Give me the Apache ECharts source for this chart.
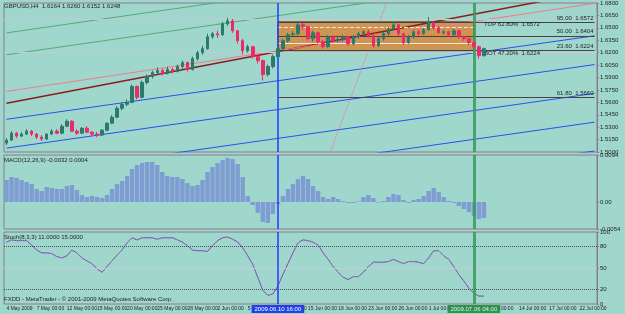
<!DOCTYPE html>
<html>
<head>
<meta charset="utf-8">
<script src="https://cdn.jsdelivr.net/npm/echarts@6/dist/echarts.min.js"></script>
<style>
  html, body { margin: 0; padding: 0; background: #a0d7cd; }
  #main { width: 625px; height: 314px; }
</style>
</head>
<body>
<div id="main"></div>
<script>
// GBPUSD H4, one slot = 12h
const opens = [1.5108, 1.5144, 1.5228, 1.5192, 1.5216, 1.5252, 1.5216, 1.5180, 1.5156, 1.5216,
  1.5252, 1.5228, 1.5312, 1.5372, 1.5252, 1.5228, 1.5288, 1.5240, 1.5216, 1.5204,
  1.5264, 1.5348, 1.5420, 1.5528, 1.5576, 1.5600, 1.5792, 1.5660, 1.5840, 1.5912,
  1.5960, 1.5984, 1.5948, 1.5996, 1.5972, 1.6032, 1.6080, 1.5996, 1.6128, 1.6200,
  1.6248, 1.6392, 1.6428, 1.6416, 1.6548, 1.6584, 1.6464, 1.6344, 1.6224, 1.6272,
  1.6152, 1.6104, 1.5936, 1.6032, 1.6152, 1.6248, 1.6344, 1.6416, 1.6428, 1.6536,
  1.6512, 1.6368, 1.6440, 1.6332, 1.6272, 1.6392, 1.6344, 1.6356, 1.6392, 1.6308,
  1.6392, 1.6428, 1.6452, 1.6404, 1.6284, 1.6368, 1.6428, 1.6488, 1.6536, 1.6428,
  1.6320, 1.6392, 1.6452, 1.6428, 1.6476, 1.6560, 1.6500, 1.6440, 1.6452, 1.6416,
  1.6464, 1.6392, 1.6368, 1.6320, 1.6272, 1.6164]
const closes = [1.5144, 1.5228, 1.5192, 1.5216, 1.5252, 1.5216, 1.5180, 1.5156, 1.5216, 1.5252,
  1.5228, 1.5312, 1.5372, 1.5252, 1.5228, 1.5288, 1.5240, 1.5216, 1.5204, 1.5264,
  1.5348, 1.5420, 1.5528, 1.5576, 1.5600, 1.5792, 1.5660, 1.5840, 1.5912, 1.5960,
  1.5984, 1.5948, 1.5996, 1.5972, 1.6032, 1.6080, 1.5996, 1.6128, 1.6200, 1.6248,
  1.6392, 1.6428, 1.6416, 1.6548, 1.6584, 1.6464, 1.6344, 1.6224, 1.6272, 1.6152,
  1.6104, 1.5936, 1.6032, 1.6152, 1.6248, 1.6344, 1.6416, 1.6428, 1.6536, 1.6512,
  1.6368, 1.6440, 1.6332, 1.6272, 1.6392, 1.6344, 1.6356, 1.6392, 1.6308, 1.6392,
  1.6428, 1.6452, 1.6404, 1.6284, 1.6368, 1.6428, 1.6488, 1.6536, 1.6428, 1.6320,
  1.6392, 1.6452, 1.6428, 1.6476, 1.6560, 1.6500, 1.6440, 1.6452, 1.6416, 1.6464,
  1.6392, 1.6368, 1.6320, 1.6272, 1.6164, 1.6248]
const lows = [1.5084, 1.5132, 1.5168, 1.5180, 1.5204, 1.5192, 1.5156, 1.5132, 1.5144, 1.5204,
  1.5216, 1.5216, 1.5300, 1.5240, 1.5204, 1.5216, 1.5228, 1.5192, 1.5180, 1.5192,
  1.5252, 1.5336, 1.5408, 1.5504, 1.5552, 1.5588, 1.5636, 1.5648, 1.5816, 1.5888,
  1.5936, 1.5924, 1.5936, 1.5948, 1.5960, 1.6008, 1.5972, 1.5984, 1.6104, 1.6176,
  1.6236, 1.6368, 1.6380, 1.6404, 1.6524, 1.6440, 1.6308, 1.6176, 1.6200, 1.6128,
  1.6068, 1.5864, 1.5912, 1.6008, 1.6140, 1.6224, 1.6320, 1.6392, 1.6404, 1.6476,
  1.6344, 1.6332, 1.6308, 1.6248, 1.6260, 1.6320, 1.6320, 1.6332, 1.6284, 1.6296,
  1.6368, 1.6404, 1.6380, 1.6260, 1.6272, 1.6344, 1.6404, 1.6464, 1.6404, 1.6296,
  1.6308, 1.6368, 1.6404, 1.6416, 1.6464, 1.6476, 1.6428, 1.6416, 1.6392, 1.6404,
  1.6368, 1.6344, 1.6296, 1.6248, 1.6128, 1.6152]
const highs = [1.5168, 1.5252, 1.5240, 1.5240, 1.5276, 1.5264, 1.5228, 1.5204, 1.5228, 1.5276,
  1.5276, 1.5336, 1.5396, 1.5384, 1.5276, 1.5300, 1.5312, 1.5252, 1.5240, 1.5276,
  1.5360, 1.5444, 1.5552, 1.5600, 1.5636, 1.5816, 1.5804, 1.5864, 1.5936, 1.5984,
  1.6020, 1.6008, 1.6032, 1.6020, 1.6056, 1.6104, 1.6092, 1.6152, 1.6224, 1.6284,
  1.6428, 1.6452, 1.6464, 1.6572, 1.6620, 1.6608, 1.6476, 1.6368, 1.6296, 1.6284,
  1.6176, 1.6116, 1.6056, 1.6176, 1.6272, 1.6368, 1.6440, 1.6464, 1.6560, 1.6560,
  1.6524, 1.6464, 1.6452, 1.6356, 1.6416, 1.6416, 1.6392, 1.6416, 1.6404, 1.6416,
  1.6452, 1.6476, 1.6476, 1.6416, 1.6392, 1.6452, 1.6512, 1.6572, 1.6548, 1.6440,
  1.6416, 1.6476, 1.6476, 1.6500, 1.6632, 1.6584, 1.6524, 1.6476, 1.6464, 1.6488,
  1.6476, 1.6404, 1.6380, 1.6332, 1.6284, 1.6260]

const macdHist = [0.0044, 0.0050, 0.0048, 0.0044, 0.0040, 0.0036, 0.0026, 0.0022, 0.0030, 0.0028,
  0.0026, 0.0026, 0.0032, 0.0034, 0.0024, 0.0014, 0.0010, 0.0012, 0.0010, 0.0008,
  0.0014, 0.0026, 0.0036, 0.0042, 0.0052, 0.0066, 0.0074, 0.0078, 0.0080, 0.0080,
  0.0074, 0.0060, 0.0052, 0.0050, 0.0050, 0.0046, 0.0038, 0.0032, 0.0034, 0.0044,
  0.0060, 0.0070, 0.0078, 0.0084, 0.0088, 0.0086, 0.0076, 0.0050, 0.0012, -0.0006,
  -0.0022, -0.0040, -0.0042, -0.0024, -0.0004, 0.0012, 0.0026, 0.0036, 0.0046, 0.0052,
  0.0046, 0.0032, 0.0022, 0.0010, 0.0006, 0.0010, 0.0006, 0.0002, -0.0002, -0.0002,
  0.0001, 0.0010, 0.0014, 0.0008, -0.0001, 0.0002, 0.0010, 0.0016, 0.0014, 0.0004,
  -0.0002, 0.0004, 0.0006, 0.0012, 0.0022, 0.0028, 0.0020, 0.0010, 0.0002, -0.0002,
  -0.0008, -0.0014, -0.0020, -0.0028, -0.0034, -0.0032]

const stochK = [86, 89, 88, 88, 88, 82, 75, 71, 71, 70,
  66, 64, 67, 75, 71, 64, 60, 56, 49, 44,
  52, 60, 68, 75, 85, 92, 89, 92, 92, 92,
  90, 92, 92, 92, 89, 86, 81, 75, 74, 74,
  73, 81, 88, 92, 93, 90, 86, 78, 67, 55,
  37, 19, 12, 14, 25, 41, 56, 71, 85, 89,
  88, 86, 82, 71, 62, 52, 44, 37, 34, 38,
  38, 44, 52, 58, 58, 58, 59, 62, 59, 56,
  59, 59, 58, 56, 64, 74, 74, 67, 62, 52,
  41, 32, 22, 15, 11, 11]

// bottom time scale, one label every 6 slots
const dateTicks = ['4 May 2009', '7 May 00:00', '12 May 00:00', '15 May 00:00', '20 May 00:00',
  '25 May 00:00', '28 May 00:00', '2 Jun 00:00', '5 Jun 00:00', '10 Jun 00:00',
  '15 Jun 00:00', '18 Jun 00:00', '23 Jun 00:00', '26 Jun 00:00', '1 Jul 00:00',
  '6 Jul 00:00', '9 Jul 00:00', '14 Jul 00:00', '17 Jul 00:00', '22 Jul 00:00']
const slotCount = 118
const slots = Array.from({ length: slotCount }, (_, i) => String(i))

// trend lines: [slot, price] at both ends
const trendSlots = [0, 117]
const redLine = [1.5590, 1.6942]
const pinkLine = [1.5732, 1.6795]
const greenLines = [[1.6439, 1.7460], [1.6175, 1.7198]]
const blueLines = [[1.5395, 1.6404], [1.5047, 1.6056], [1.4699, 1.5708], [1.4351, 1.5360], [1.4003, 1.5012]]
const steepSlots = [64, 76]
const steepLine = [1.4936, 1.6859]

// fibo / box
const boxSlots = [54, 93]
const boxPrices = [1.6572, 1.6224]
const boxLabels = ['TOP 62.80%  1.6572', 'BOT 47.20%  1.6224']
const boxLabelPrices = [1.6546, 1.6196]
const fibSlots = [54, 117]
const fibPrices = [1.6572, 1.6404, 1.6224, 1.5660]
const fibNames = ['95.00', '50.00', '23.60', '61.80']
const innerPrices = [1.6512, 1.6308]
const tagPrices = [1.6572, 1.6308, 1.6224]

const markerSlots = [54, 93]
const markerTimes = ['2009.06.10 16:00', '2009.07.06 04:00']

const font = '"Liberation Sans", Arial, sans-serif'
const txt = '#1e1e1e'
const frame = '#8c7c88'
const markerStyles = [
  { color: '#1e3cff', width: 1.5, type: 'solid' },
  { color: '#3a9a5a', width: 3, type: 'solid', opacity: 0.85 }
]
const markerBg = ['#2140e8', '#1c8a3a']

function verticals(withLabels) {
  return markerSlots.map((s, i) => ({
    xAxis: s,
    lineStyle: markerStyles[i],
    label: withLabels ? {
      show: true, position: 'start', distance: 1, formatter: markerTimes[i],
      backgroundColor: markerBg[i], color: '#fff', fontSize: 6, fontFamily: font, padding: [1, 3]
    } : { show: false }
  }))
}

function trend(name, ys, xs, color, width, type) {
  return {
    name, type: 'line', xAxisIndex: 0, yAxisIndex: 0, silent: true,
    showSymbol: false, symbol: 'none', clip: true, z: 3,
    data: [[xs[0], ys[0]], [xs[1], ys[1]]],
    lineStyle: { color, width, type: type || 'solid' }
  }
}

const candles = opens.map((o, i) => [o, closes[i], lows[i], highs[i]])

const fibLines = fibPrices.map((p, i) => [
  { coord: [fibSlots[0], p], lineStyle: { color: '#4a4046', width: 1, type: 'solid' },
    label: { show: true, position: 'insideEndTop', distance: 1, formatter: fibNames[i] + '  ' + p.toFixed(4),
      fontSize: 6, fontFamily: font, color: txt } },
  { coord: [fibSlots[1], p] }
])
const innerLines = innerPrices.map((p, i) => [
  { coord: [boxSlots[0], p], lineStyle: { color: '#ecebf2', width: 1, type: i === 0 ? 'dashed' : 'solid' }, label: { show: false } },
  { coord: [boxSlots[1], p] }
])
const edgeLines = boxPrices.map(p => ({ yAxis: p, lineStyle: { color: '#c6c9d2', width: 1, type: 'solid' }, label: { show: false } }))
const tags = tagPrices.map((p, i) => ({
  yAxis: p, lineStyle: { opacity: 0 },
  label: { show: true, position: 'end', distance: 1, formatter: p.toFixed(4), fontSize: 6, fontFamily: font,
    color: i === 1 ? '#fff' : '#222', backgroundColor: i === 1 ? '#c0203a' : '#c98040', padding: [1, 1] }
}))

const series = [
  {
    name: 'GBPUSD', type: 'candlestick', xAxisIndex: 0, yAxisIndex: 0, z: 5,
    barWidth: 3, data: candles,
    itemStyle: { color: '#2c7a6c', color0: '#ee2a66', borderColor: '#2c7a6c', borderColor0: '#ee2a66', borderWidth: 1 },
    markArea: {
      silent: true,
      itemStyle: { color: 'rgba(214,136,58,0.85)', borderColor: '#6e4018', borderWidth: 1 },
      data: [[{ coord: [boxSlots[0], boxPrices[0]] }, { coord: [boxSlots[1], boxPrices[1]] }]]
    },
    markLine: {
      silent: true, symbol: ['none', 'none'], animation: false,
      data: [...edgeLines, ...innerLines, ...fibLines, ...tags, ...verticals(false)]
    },
    markPoint: {
      silent: true, symbol: 'rect', symbolSize: 0,
      data: boxLabels.map((t, i) => ({
        coord: [95, boxLabelPrices[i]],
        label: { show: true, position: 'right', distance: 0, formatter: t, fontSize: 6, fontFamily: font, color: txt }
      }))
    }
  },
  trend('red', redLine, trendSlots, '#8b1c1c', 1.5),
  trend('pink', pinkLine, trendSlots, '#f07a8a', 1),
  ...greenLines.map((l, i) => trend('green' + i, l, trendSlots, '#5aa870', 1)),
  ...blueLines.map((l, i) => trend('blue' + i, l, trendSlots, '#2b4ef0', 1)),
  trend('steep', steepLine, steepSlots, '#f06a8a', 1, 'dotted'),
  {
    name: 'MACD', type: 'bar', xAxisIndex: 1, yAxisIndex: 1, data: macdHist,
    barCategoryGap: '12%', itemStyle: { color: '#7f9dd2' },
    markLine: { silent: true, symbol: ['none', 'none'], data: verticals(false) }
  },
  {
    name: 'Stoch', type: 'line', xAxisIndex: 2, yAxisIndex: 2, data: stochK,
    showSymbol: false, symbol: 'none', lineStyle: { color: '#3d5cd0', width: 1 },
    markLine: {
      silent: true, symbol: ['none', 'none'],
      data: [
        { yAxis: 80, lineStyle: { color: '#4c5060', type: 'dotted', width: 1 }, label: { show: false } },
        { yAxis: 50, lineStyle: { color: '#c4ccd6', type: 'solid', width: 1 }, label: { show: false } },
        { yAxis: 20, lineStyle: { color: '#4c5060', type: 'dotted', width: 1 }, label: { show: false } },
        ...verticals(true)
      ]
    }
  },
  {
    name: 'StochSignal', type: 'line', xAxisIndex: 2, yAxisIndex: 2, data: stochK,
    showSymbol: false, symbol: 'none', lineStyle: { color: '#e06a8a', width: 1, type: 'dotted' }
  }
]

const grids = [
  { left: 4, right: 28, top: 2, height: 150 },
  { left: 4, right: 28, top: 155, height: 74 },
  { left: 4, right: 28, top: 232, height: 72 }
].map(g => ({ ...g, show: true, borderColor: frame, borderWidth: 1, backgroundColor: 'transparent' }))

const xAxes = [0, 1, 2].map(i => ({
  type: 'category', gridIndex: i, data: slots, boundaryGap: true,
  axisLine: { show: false }, axisTick: { show: false }, splitLine: { show: false },
  axisLabel: i === 2 ? {
    show: true, interval: 5, fontSize: 5, fontFamily: font, color: txt, margin: 2, align: 'left',
    showMinLabel: true, hideOverlap: false,
    formatter: (v, idx) => dateTicks[idx / 6] || ''
  } : { show: false }
}))

const yLabel = { fontSize: 6, fontFamily: font, color: txt, margin: 3 }
const yAxes = [
  {
    gridIndex: 0, position: 'right', min: 1.5, max: 1.68, interval: 0.015,
    axisLine: { show: true, lineStyle: { color: frame } }, axisTick: { show: true, length: 2, lineStyle: { color: frame } },
    splitLine: { show: false }, axisLabel: { ...yLabel, formatter: v => v.toFixed(4) }
  },
  {
    gridIndex: 1, position: 'right', min: -0.0054, max: 0.0094,
    axisLine: { show: true, lineStyle: { color: frame } },
    axisTick: { show: true, length: 2, customValues: [-0.0054, 0, 0.0094], lineStyle: { color: frame } },
    splitLine: { show: false },
    axisLabel: { ...yLabel, customValues: [-0.0054, 0, 0.0094], formatter: v => (v === 0 ? '0.00' : v.toFixed(4)) }
  },
  {
    gridIndex: 2, position: 'right', min: 0, max: 100,
    axisLine: { show: true, lineStyle: { color: frame } },
    axisTick: { show: true, length: 2, customValues: [0, 20, 50, 80, 100], lineStyle: { color: frame } },
    splitLine: { show: false },
    axisLabel: { ...yLabel, customValues: [0, 20, 50, 80, 100] }
  }
]

const titleStyle = { fontSize: 6, fontWeight: 'normal', fontFamily: font, color: txt }
const option = {
  animation: false,
  backgroundColor: '#a0d7cd',
  title: [
    { text: 'GBPUSD,H4  1.6164 1.6260 1.6152 1.6248', left: 4, top: 3, padding: 0, textStyle: titleStyle },
    { text: 'MACD(12,26,9) -0.0032 0.0004', left: 4, top: 157, padding: 0, textStyle: titleStyle },
    { text: 'Stoch(8,3,3) 11.0000 15.0000', left: 4, top: 234, padding: 0, textStyle: titleStyle },
    { text: 'FXDD - MetaTrader - \u00a9 2001-2009 MetaQuotes Software Corp.', left: 4, top: 296, padding: 0, textStyle: titleStyle }
  ],
  grid: grids,
  xAxis: xAxes,
  yAxis: yAxes,
  series
}

const myChart = echarts.init(document.getElementById('main'))
myChart.setOption(option)
</script>
</body>
</html>
